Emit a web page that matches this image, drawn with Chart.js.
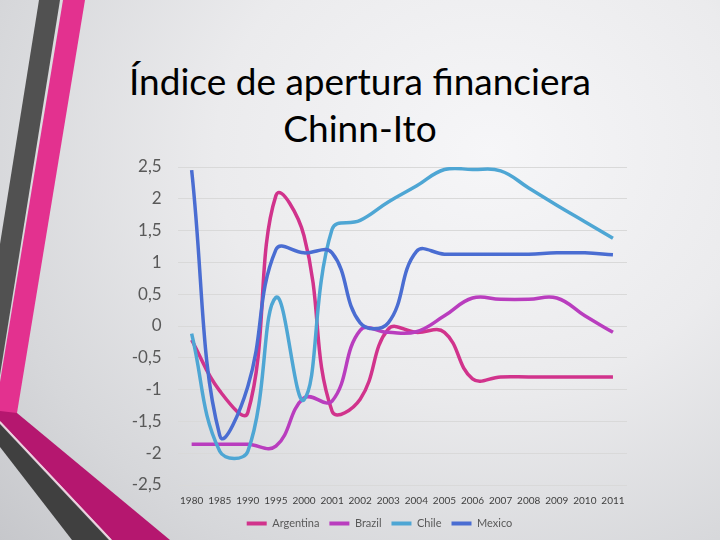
<!DOCTYPE html>
<html>
<head>
<meta charset="utf-8">
<script src="https://cdn.jsdelivr.net/npm/chart.js@4.4.0/dist/chart.umd.min.js"></script>
<style>
html,body{margin:0;padding:0;width:720px;height:540px;overflow:hidden;}
#bg{position:absolute;left:0;top:0;width:720px;height:540px;
 background:radial-gradient(ellipse 95% 110% at 68% 28%, #f6f6f8 0%, #ebebed 40%, #d6d7da 75%, #c4c5c9 100%);}
#deco{position:absolute;left:0;top:0;}
.t{position:absolute;left:0;width:720px;text-align:center;font-family:Lato,"Open Sans",sans-serif;font-size:37px;line-height:37px;color:#000;white-space:nowrap;}
#wrap{position:absolute;left:0;top:0;width:720px;height:540px;}
</style>
</head>
<body>
<div id="bg"></div>
<svg id="deco" width="720" height="540" viewBox="0 0 720 540">
  <polygon points="39,0 60,0 0,375 0,244" fill="#515151"/>
  <polygon points="63,0 85,0 17,413 0,413 0,382" fill="#E3318F"/>
  <polygon points="0,411 17,413 170,540 112,540 0,421" fill="#B5176F"/>
  <line x1="0" y1="422" x2="111" y2="540" stroke="#f2cfe0" stroke-width="1.5"/>
  <polygon points="0,424 109,540 72,540 0,447" fill="#404040"/>
</svg>
<div class="t" style="top:62px">Índice de apertura financiera</div>
<div class="t" style="top:109px">Chinn-Ito</div>
<div id="wrap"><canvas id="c" width="720" height="540"></canvas></div>
<script>
const years = ['1980','1985','1990','1995','2000','2001','2002','2003','2004','2005','2006','2007','2008','2009','2010','2011'];
const argentina = [-0.22, -1.02, -1.36, 2.05, 1.42, -1.34, -1.15, -0.05, -0.1, -0.1, -0.83, -0.8, -0.8, -0.8, -0.8, -0.8];
const brazil    = [-1.86, -1.86, -1.86, -1.89, -1.13, -1.18, -0.07, -0.1, -0.09, 0.16, 0.44, 0.42, 0.42, 0.44, 0.16, -0.1];
const chile     = [-0.12, -1.97, -1.97, 0.45, -1.16, 1.52, 1.66, 1.95, 2.2, 2.46, 2.46, 2.44, 2.17, 1.9, 1.64, 1.38];
const mexico    = [2.45, -1.72, -0.95, 1.2, 1.15, 1.15, 0.05, 0.05, 1.17, 1.13, 1.13, 1.13, 1.13, 1.15, 1.15, 1.12];
const seriesNames = ['Argentina','Brazil','Chile','Mexico'];
const seriesColors = ['#D1338C','#B93DBE','#4EA6D4','#4A6DD2'];
const seriesData = [argentina, brazil, chile, mexico];

const datasets = seriesNames.map((name, i) => ({
  label: name,
  data: seriesData[i],
  borderColor: seriesColors[i],
  backgroundColor: seriesColors[i],
  borderWidth: 3.5,
  pointRadius: 0,
  tension: 0.42,
  fill: false,
  order: 4 - i
}));

new Chart(document.getElementById('c'), {
  type: 'line',
  data: { labels: years, datasets: datasets },
  options: {
    responsive: false,
    animation: false,
    events: [],
    layout: { padding: { left: 132, right: 93, top: 167, bottom: 1 } },
    plugins: {
      legend: {
        position: 'bottom',
        labels: {
          boxWidth: 20, boxHeight: 4, padding: 10,
          color: '#595959',
          font: { family: 'Lato', size: 11 },
          generateLabels: (chart) => Chart.defaults.plugins.legend.labels.generateLabels(chart)
            .map(l => Object.assign(l, { lineWidth: 0 }))
            .sort((a, b) => a.datasetIndex - b.datasetIndex)
        }
      },
      tooltip: { enabled: false }
    },
    scales: {
      x: {
        offset: true,
        grid: { display: false, drawTicks: false },
        border: { display: false },
        ticks: { color: '#404040', font: { family: 'Lato', size: 10 }, padding: 10, maxRotation: 0, autoSkip: false },
        afterFit: (s) => { s.height = 23; }
      },
      y: {
        min: -2.5, max: 2.5,
        grid: { color: '#d9d9d9', lineWidth: 1, drawTicks: false },
        border: { display: false },
        ticks: {
          stepSize: 0.5,
          color: '#595959',
          font: { family: 'Lato', size: 17 },
          padding: 16,
          callback: (v) => String(v).replace('.', ',')
        },
        afterFit: (s) => { s.width = 45.6; }
      }
    }
  }
});
</script>
</body>
</html>
